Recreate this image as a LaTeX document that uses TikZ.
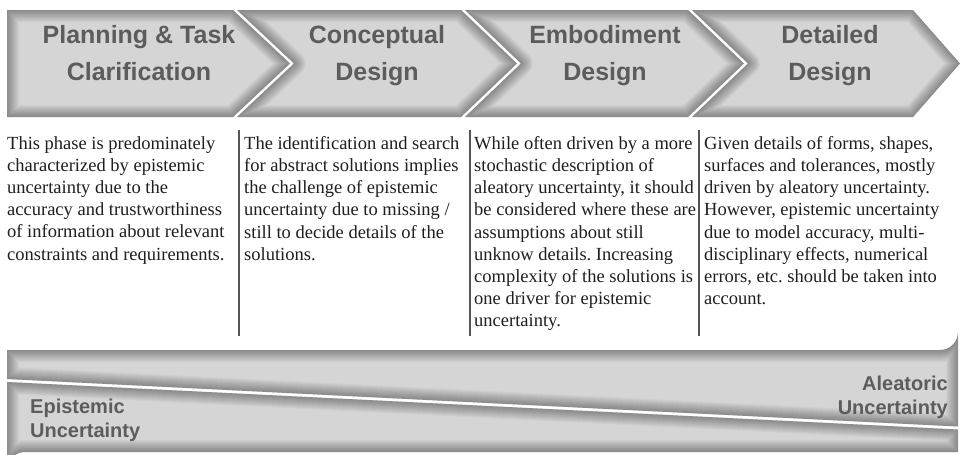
\documentclass[tikz,border=0pt]{standalone}
\usepackage{fontspec}
\setmainfont{Liberation Serif}
\newfontfamily\hdrfont{Liberation Sans}
\frenchspacing
\definecolor{chev}{HTML}{D5D5D5}
\definecolor{hdrtxt}{HTML}{5C5C5C}
\definecolor{divc}{HTML}{555555}
\tikzset{
 hdr/.style={font=\hdrfont\bfseries\fontsize{25}{37}\selectfont, text=hdrtxt, align=center, inner sep=0, anchor=north},
 body/.style={font=\fontsize{18.5}{22.2}\selectfont, text=black!88, align=left, anchor=north west, inner sep=0},
 divider/.style={draw=divc, line width=1.2pt},
 bandlabel/.style={font=\hdrfont\bfseries\fontsize{20}{24}\selectfont, text=hdrtxt, inner sep=0},
}
\newcommand{\shadedpiece}[1]{%
 \begin{scope}
 \clip #1;
 \fill[chev] #1;
 \foreach \w in {2,4,...,24}{\draw[line width=\w pt, black, opacity=0.032, line join=round] #1;}
 \end{scope}}
\begin{document}
\begin{tikzpicture}[x=1pt,y=-1pt]
\useasboundingbox[fill=white] (0,0) rectangle (962,455);
% chevrons
\shadedpiece{(7,10) -- (233,10) -- (290,63.5) -- (233,117) -- (7,117) -- cycle}
\shadedpiece{(237,10) -- (461,10) -- (517,63.5) -- (461,117) -- (237,117) -- (294,63.5) -- cycle}
\shadedpiece{(465,10) -- (688,10) -- (744,63.5) -- (688,117) -- (465,117) -- (521,63.5) -- cycle}
\shadedpiece{(692,10) -- (913,10) -- (960,63.5) -- (913,117) -- (692,117) -- (748,63.5) -- cycle}
\node[hdr] (h1) at (139,25) {Planning \& Task\\Clarification};
\node[hdr] (h2) at (377,25) {Conceptual\\Design};
\node[hdr] (h3) at (605,25) {Embodiment\\Design};
\node[hdr] (h4) at (830,25) {Detailed\\Design};
% texts
\node[body] (t1) at (7,136) {This phase is predominately\\characterized by epistemic\\uncertainty due to the\\accuracy and trustworthiness\\of information about relevant\\constraints and requirements.};
\node[body] (t2) at (244,136) {The identification and search\\for abstract solutions implies\\the challenge of epistemic\\uncertainty due to missing /\\still to decide details of the\\solutions.};
\node[body] (t3) at (474,136) {While often driven by a more\\stochastic description of\\aleatory uncertainty, it should\\be considered where these are\\assumptions about still\\unknow details. Increasing\\complexity of the solutions is\\one driver for epistemic\\uncertainty.};
\node[body] (t4) at (704,136) {Given details of forms, shapes,\\surfaces and tolerances, mostly\\driven by aleatory uncertainty.\\However, epistemic uncertainty\\due to model accuracy, multi-\\disciplinary effects, numerical\\errors, etc. should be taken into\\account.};
\draw[divider] (239,130) -- (239,336);
\draw[divider] (470,130) -- (470,336);
\draw[divider] (699,130) -- (699,336);
% bottom band
\shadedpiece{(7,350) -- (940,350) arc[start angle=90, end angle=0, radius=18] -- (958,426.5) -- (7,379) -- cycle}
\shadedpiece{(7,382) -- (958,429.5) -- (958,452) -- (25,452) arc[start angle=270, end angle=180, radius=18] -- cycle}
\node[bandlabel, align=left, anchor=west] (ep) at (30,420) {Epistemic\\Uncertainty};
\node[bandlabel, align=right, anchor=east] (al) at (948,397) {Aleatoric\\Uncertainty};
\end{tikzpicture}
\end{document}
